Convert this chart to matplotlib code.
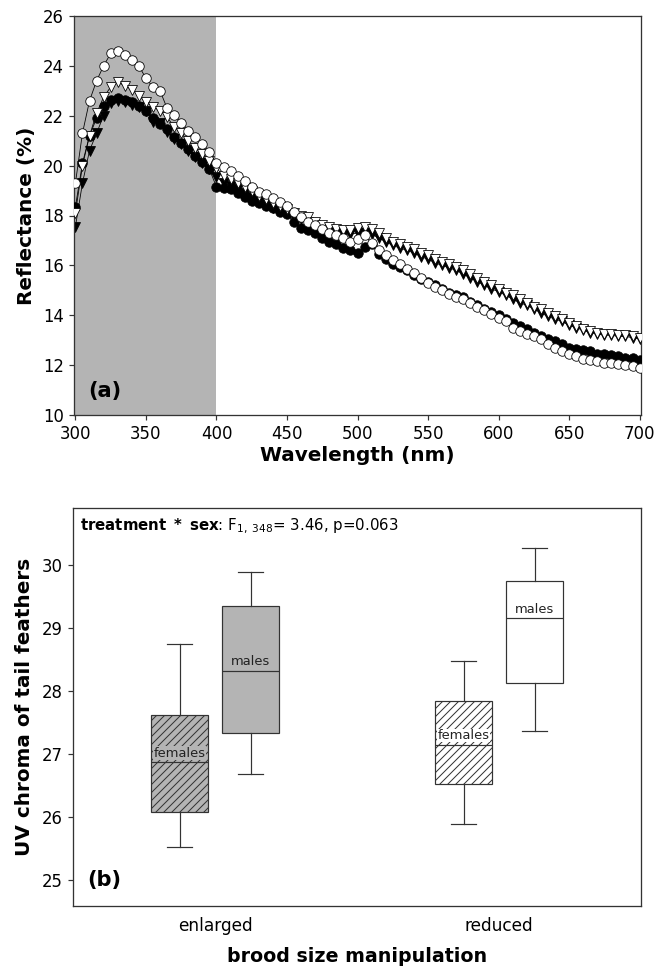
import matplotlib
matplotlib.use("Agg")
import matplotlib.pyplot as plt
import numpy as np

plt.rcParams['font.family'] = ['DejaVu Sans']
plt.rcParams['mathtext.fontset'] = 'dejavusans'
plt.rcParams['hatch.linewidth'] = 1.0

# ---------------- data: panel (a) ----------------
wavelength = list(range(300, 701, 5))

open_circles = [19.3, 21.3, 22.6, 23.4, 24.0, 24.5, 24.6, 24.45, 24.25, 24.0,
                23.5, 23.15, 23.0, 22.3, 22.05, 21.7, 21.4, 21.15, 20.85, 20.55,
                20.1, 19.95, 19.8, 19.6, 19.4, 19.15, 18.95, 18.85, 18.7, 18.55,
                18.4, 18.15, 17.95, 17.75, 17.6, 17.45, 17.3, 17.2, 17.1, 16.95,
                17.05, 17.2, 16.9, 16.6, 16.4, 16.2, 16.05, 15.85, 15.7, 15.5,
                15.3, 15.15, 15.0, 14.85, 14.75, 14.65, 14.5, 14.35, 14.2, 14.05,
                13.9, 13.75, 13.5, 13.35, 13.25, 13.15, 13.05, 12.85, 12.7, 12.55,
                12.45, 12.35, 12.25, 12.2, 12.15, 12.1, 12.1, 12.05, 12.0, 11.95,
                11.9]

filled_circles = [18.35, 20.1, 21.2, 21.9, 22.4, 22.65, 22.7, 22.65, 22.55, 22.4,
                  22.2, 21.9, 21.65, 21.45, 21.15, 20.9, 20.65, 20.4, 20.15, 19.85,
                  19.15, 19.1, 19.05, 18.9, 18.75, 18.6, 18.5, 18.4, 18.3, 18.15,
                  18.05, 17.75, 17.5, 17.4, 17.3, 17.1, 16.95, 16.85, 16.7, 16.6,
                  16.5, 16.75, 16.85, 16.45, 16.25, 16.05, 15.95, 15.8, 15.6, 15.45,
                  15.35, 15.2, 15.05, 14.9, 14.8, 14.75, 14.55, 14.4, 14.25, 14.15,
                  14.0, 13.85, 13.7, 13.55, 13.45, 13.3, 13.15, 13.05, 12.95, 12.85,
                  12.7, 12.65, 12.6, 12.55, 12.45, 12.45, 12.4, 12.35, 12.3, 12.3,
                  12.2]

open_triangles = [18.1, 20.0, 21.2, 22.1, 22.75, 23.15, 23.35, 23.2, 23.05, 22.8,
                  22.55, 22.35, 22.2, 21.95, 21.55, 21.3, 21.0, 20.7, 20.45, 20.2,
                  19.9, 19.6, 19.45, 19.3, 19.15, 19.0, 18.8, 18.65, 18.5, 18.4,
                  18.25, 18.1, 18.0, 17.95, 17.75, 17.6, 17.55, 17.45, 17.4, 17.4,
                  17.5, 17.55, 17.45, 17.3, 17.1, 16.95, 16.85, 16.75, 16.65, 16.5,
                  16.4, 16.25, 16.15, 16.05, 15.95, 15.8, 15.65, 15.5, 15.35, 15.2,
                  15.05, 14.9, 14.8, 14.65, 14.5, 14.35, 14.25, 14.1, 13.95, 13.85,
                  13.7, 13.55, 13.45, 13.35, 13.3, 13.25, 13.25, 13.2, 13.2, 13.15,
                  13.1]

filled_triangles = [17.55, 19.3, 20.6, 21.3, 22.0, 22.5, 22.6, 22.55, 22.45, 22.35,
                    22.2, 21.75, 21.7, 21.35, 21.05, 20.85, 20.6, 20.35, 20.1, 19.85,
                    19.55, 19.3, 19.2, 19.05, 18.9, 18.75, 18.6, 18.45, 18.3, 18.2,
                    18.1, 17.95, 17.85, 17.75, 17.6, 17.45, 17.35, 17.3, 17.2, 17.25,
                    17.3, 17.3, 17.25, 17.1, 16.95, 16.8, 16.7, 16.6, 16.5, 16.35,
                    16.25, 16.1, 16.0, 15.9, 15.8, 15.65, 15.5, 15.35, 15.2, 15.05,
                    14.95, 14.8, 14.65, 14.5, 14.4, 14.25, 14.1, 13.95, 13.85, 13.75,
                    13.6, 13.5, 13.4, 13.3, 13.25, 13.2, 13.2, 13.15, 13.15, 13.1,
                    13.05]

uv_range = [300, 400]
a_xticks = [300, 350, 400, 450, 500, 550, 600, 650, 700]
a_yticks = [10, 12, 14, 16, 18, 20, 22, 24, 26]

# ---------------- data: panel (b) ----------------
treatments = ["enlarged", "reduced"]
sexes = ["females", "males"]
# per box: [whisker_low, q1, median, q3, whisker_high]
enl_females = [25.52, 26.08, 26.87, 27.62, 28.74]
enl_males = [26.68, 27.34, 28.32, 29.35, 29.89]
red_females = [25.89, 26.53, 27.15, 27.84, 28.48]
red_males = [27.37, 28.12, 29.15, 29.75, 30.27]
b_yticks = [25, 26, 27, 28, 29, 30]

# ---------------- figure ----------------
W, H = 655, 969
fig = plt.figure(figsize=(W / 72, H / 72), dpi=72)

def rect(l, r, t, b):
    return [l / W, 1 - b / H, (r - l) / W, (b - t) / H]

TICK_FS = 16.5
LABEL_FS = 19
EDGE = '#333333'

# ---- panel (a)
ax = fig.add_axes(rect(74, 641, 16, 415))
ax.axvspan(uv_range[0], uv_range[1], color='#b4b4b4', lw=0, zorder=0)
ms = 9.5
ax.plot(wavelength, filled_triangles, '-', color='black', lw=0.8, marker='v',
        ms=ms, mfc='black', mec='black', mew=0.8, zorder=2)
ax.plot(wavelength, filled_circles, '-', color='black', lw=0.8, marker='o',
        ms=ms, mfc='black', mec='black', mew=0.8, zorder=3)
ax.plot(wavelength, open_triangles, '-', color='black', lw=0.8, marker='v',
        ms=ms, mfc='white', mec='black', mew=0.8, zorder=4)
ax.plot(wavelength, open_circles, '-', color='black', lw=0.8, marker='o',
        ms=ms, mfc='white', mec='black', mew=0.8, zorder=5)
ax.set_xlim(299, 701)
ax.set_ylim(10, 26)
ax.set_xticks(a_xticks)
ax.set_yticks(a_yticks)
ax.tick_params(direction='out', length=5, width=1.2, labelsize=TICK_FS, pad=5,
               top=False, right=False, color=EDGE)
for s in ax.spines.values():
    s.set_linewidth(1.3)
    s.set_color(EDGE)
ax.set_xlabel("Wavelength (nm)", fontsize=LABEL_FS + 1, fontweight='bold', labelpad=3)
ax.set_ylabel("Reflectance (%)", fontsize=LABEL_FS + 1, fontweight='bold', labelpad=7)
ax.text(0.025, 0.06, "(a)", transform=ax.transAxes, fontsize=21,
        fontweight='bold', ha='left', va='center')

# ---- panel (b)
bx = fig.add_axes(rect(73, 641, 508, 906))
cat_pos = np.arange(len(treatments))
offset = 0.125
width = 0.2
boxes = [
    (enl_females, cat_pos[0] - offset, '#b4b4b4', '///', sexes[0]),
    (enl_males, cat_pos[0] + offset, '#b4b4b4', '', sexes[1]),
    (red_females, cat_pos[1] - offset, 'white', '///', sexes[0]),
    (red_males, cat_pos[1] + offset, 'white', '', sexes[1]),
]
for vals, pos, fc, hatch, lab in boxes:
    st = dict(whislo=vals[0], q1=vals[1], med=vals[2], q3=vals[3], whishi=vals[4],
              fliers=[], label=lab)
    bx.bxp([st], positions=[pos], widths=width, capwidths=0.085,
           patch_artist=True, showfliers=False, manage_ticks=False,
           boxprops=dict(facecolor=fc, edgecolor=EDGE, linewidth=1.2, hatch=hatch),
           medianprops=dict(color=EDGE, linewidth=1.2),
           whiskerprops=dict(color=EDGE, linewidth=1.2),
           capprops=dict(color=EDGE, linewidth=1.2))
    bx.text(pos, vals[2] + 0.04, lab, ha='center', va='bottom', fontsize=13,
            color='#222222',
            bbox=dict(facecolor=fc, edgecolor='none', pad=0.3) if hatch else None,
            zorder=5)

bx.set_xlim(-0.5, 1.5)
bx.set_ylim(24.59, 30.9)
bx.set_yticks(b_yticks)
bx.set_xticks(cat_pos)
bx.set_xticklabels(treatments, fontsize=17)
bx.tick_params(axis='y', direction='out', length=5, width=1.2, labelsize=TICK_FS,
               pad=5, color=EDGE)
bx.tick_params(axis='x', length=0, pad=11)
for s in bx.spines.values():
    s.set_linewidth(1.3)
    s.set_color(EDGE)
bx.set_xlabel("brood size manipulation", fontsize=LABEL_FS, fontweight='bold', labelpad=12)
bx.set_ylabel("UV chroma of tail feathers", fontsize=LABEL_FS + 1, fontweight='bold', labelpad=8)
bx.text(0.012, 0.955, r"$\mathbf{treatment\ *\ sex}$: F$_{1,\ 348}$= 3.46, p=0.063",
        transform=bx.transAxes, fontsize=15, ha='left', va='center')
bx.text(0.025, 0.066, "(b)", transform=bx.transAxes, fontsize=21,
        fontweight='bold', ha='left', va='center')

fig.savefig("out.png", dpi=72)
